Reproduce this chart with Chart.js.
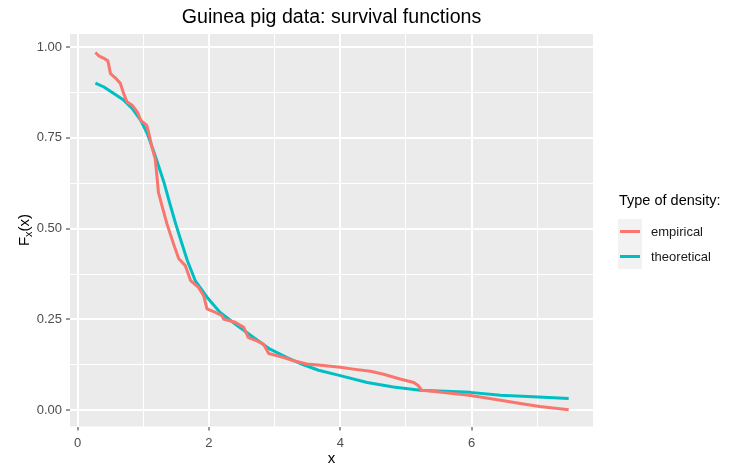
<!DOCTYPE html>
<html>
<head>
<meta charset="utf-8">
<script src="https://cdn.jsdelivr.net/npm/chart.js@4/dist/chart.umd.min.js"></script>
<style>
  html, body { margin: 0; padding: 0; background: #ffffff; }
  #wrap { width: 733px; height: 472px; }
</style>
</head>
<body>
<div id="wrap"><canvas id="c" width="733" height="472"></canvas></div>
<script>
// Empirical survival function (step-like, drawn as a connected line)
const empX = [0.27, 0.32, 0.40, 0.46, 0.50, 0.58, 0.65, 0.70, 0.75, 0.83, 0.91, 0.96, 1.05, 1.08, 1.13, 1.18,
              1.21, 1.23, 1.29, 1.36, 1.46, 1.54, 1.64, 1.72, 1.84, 1.92, 1.97, 2.10, 2.20, 2.22, 2.40, 2.53,
              2.60, 2.73, 2.83, 2.91, 3.04, 3.14, 3.29, 3.49, 3.70, 4.00, 4.20, 4.46, 4.66, 4.91, 5.12, 5.19,
              5.24, 5.47, 5.93, 6.18, 6.49, 6.79, 7.04, 7.48];
const empY = [0.985, 0.976, 0.969, 0.962, 0.927, 0.914, 0.900, 0.872, 0.849, 0.840, 0.821, 0.798, 0.785, 0.766, 0.725, 0.693,
              0.640, 0.600, 0.559, 0.513, 0.458, 0.417, 0.398, 0.357, 0.338, 0.315, 0.279, 0.269, 0.260, 0.251, 0.242, 0.228,
              0.200, 0.191, 0.182, 0.156, 0.150, 0.145, 0.136, 0.127, 0.124, 0.118, 0.113, 0.107, 0.099, 0.086, 0.076, 0.067,
              0.055, 0.051, 0.042, 0.035, 0.026, 0.017, 0.010, 0.001];

// Fitted (theoretical) survival function
const theoX = [0.27, 0.40, 0.55, 0.70, 0.83, 0.96, 1.06, 1.16, 1.21, 1.31, 1.41, 1.49, 1.54, 1.67, 1.79, 1.97,
               2.17, 2.43, 2.68, 2.93, 3.19, 3.44, 3.67, 4.00, 4.41, 4.81, 5.22, 5.98, 6.44, 6.94, 7.48];
const theoY = [0.901, 0.890, 0.872, 0.854, 0.831, 0.798, 0.762, 0.712, 0.685, 0.630, 0.565, 0.515, 0.486, 0.412, 0.357, 0.311,
               0.269, 0.233, 0.200, 0.168, 0.145, 0.125, 0.110, 0.095, 0.076, 0.064, 0.055, 0.049, 0.041, 0.037, 0.032];

const seriesNames = ['empirical', 'theoretical'];
const seriesColors = ['#F8766D', '#00BFC4'];

const xMajorTicks = [0, 2, 4, 6];
const yTickLabels = ['0.00', '0.25', '0.50', '0.75', '1.00'];

const pts = (xs, ys) => xs.map((x, i) => ({ x: x, y: ys[i] }));
const near = (v, step) => Math.abs(v / step - Math.round(v / step)) < 1e-6;

const FONT = '"Liberation Sans", Arial, sans-serif';

const panelBg = {
  id: 'panelBg',
  beforeDraw(chart) {
    const a = chart.chartArea, ctx = chart.ctx;
    ctx.save();
    ctx.fillStyle = '#EBEBEB';
    ctx.fillRect(a.left, a.top, a.right - a.left, a.bottom - a.top);
    ctx.restore();
  }
};

const annotations = {
  id: 'annotations',
  afterDraw(chart) {
    const a = chart.chartArea, ctx = chart.ctx;
    const cx = (a.left + a.right) / 2;
    ctx.save();
    // title
    ctx.fillStyle = '#000000';
    ctx.font = '19.6px ' + FONT;
    ctx.textAlign = 'center';
    ctx.textBaseline = 'alphabetic';
    ctx.fillText('Guinea pig data: survival functions', cx, 23);

    // x axis title
    ctx.font = '15px ' + FONT;
    ctx.textBaseline = 'middle';
    ctx.fillText('x', cx, 459);

    // y axis title: F with subscript x, then (x), rotated
    ctx.translate(24, 230);
    ctx.rotate(-Math.PI / 2);
    ctx.textAlign = 'left';
    ctx.textBaseline = 'alphabetic';
    ctx.font = '15px ' + FONT;
    const wF = ctx.measureText('F').width;
    ctx.font = '11px ' + FONT;
    const wSub = ctx.measureText('x').width;
    ctx.font = '15px ' + FONT;
    const wP = ctx.measureText('(x)').width;
    const total = wF + wSub + wP;
    const x0 = -total / 2;
    const base = 5;
    ctx.fillText('F', x0, base);
    ctx.font = '11px ' + FONT;
    ctx.fillText('x', x0 + wF, base + 3);
    ctx.font = '15px ' + FONT;
    ctx.fillText('(x)', x0 + wF + wSub, base);
    ctx.setTransform(1, 0, 0, 1, 0, 0);

    // legend
    ctx.textAlign = 'left';
    ctx.textBaseline = 'middle';
    ctx.font = '14.5px ' + FONT;
    ctx.fillStyle = '#000000';
    ctx.fillText('Type of density:', 619, 201);
    const keyX = 618, keyW = 24, keyH = 25;
    const keyTops = [219, 244];
    seriesNames.forEach((name, i) => {
      ctx.fillStyle = '#F2F2F2';
      ctx.fillRect(keyX, keyTops[i], keyW, keyH);
      ctx.strokeStyle = seriesColors[i];
      ctx.lineWidth = 3;
      ctx.beginPath();
      ctx.moveTo(keyX + 2, keyTops[i] + keyH / 2);
      ctx.lineTo(keyX + keyW - 2, keyTops[i] + keyH / 2);
      ctx.stroke();
      ctx.fillStyle = '#1A1A1A';
      ctx.font = '13px ' + FONT;
      ctx.fillText(name, 651, keyTops[i] + keyH / 2 + 0.5);
    });
    ctx.restore();
  }
};

new Chart(document.getElementById('c'), {
  type: 'scatter',
  data: {
    datasets: [
      { label: seriesNames[0], data: pts(empX, empY), borderColor: seriesColors[0], backgroundColor: seriesColors[0] },
      { label: seriesNames[1], data: pts(theoX, theoY), borderColor: seriesColors[1], backgroundColor: seriesColors[1] }
    ].map(d => Object.assign(d, {
      showLine: true, pointRadius: 0, pointHoverRadius: 0, borderWidth: 3,
      tension: 0, borderJoinStyle: 'round', borderCapStyle: 'butt'
    }))
  },
  options: {
    responsive: false,
    animation: false,
    devicePixelRatio: 1,
    layout: { padding: { left: 0, right: 140, top: 34, bottom: 0 } },
    plugins: { legend: { display: false }, tooltip: { enabled: false }, title: { display: false } },
    scales: {
      x: {
        type: 'linear',
        min: -0.117, max: 7.85,
        afterFit(s) { s.height = 45.5; },
        border: { display: false },
        grid: {
          color: '#FFFFFF',
          lineWidth: c => near(c.tick.value, 2) ? 2 : 1,
          drawTicks: true,
          tickLength: 4,
          tickWidth: 1,
          tickColor: c => near(c.tick.value, 2) ? '#333333' : 'rgba(0,0,0,0)'
        },
        ticks: {
          stepSize: 1,
          includeBounds: false,
          autoSkip: false,
          maxRotation: 0,
          padding: 5,
          color: '#4D4D4D',
          font: { family: FONT, size: 13 },
          callback: v => xMajorTicks.includes(Math.round(v)) && near(v, 1) ? String(Math.round(v)) : ''
        }
      },
      y: {
        type: 'linear',
        min: -0.045, max: 1.036,
        afterFit(s) { s.width = 70; },
        border: { display: false },
        grid: {
          color: '#FFFFFF',
          lineWidth: c => near(c.tick.value, 0.25) ? 2 : 1,
          drawTicks: true,
          tickLength: 4,
          tickWidth: 1,
          tickColor: c => near(c.tick.value, 0.25) ? '#333333' : 'rgba(0,0,0,0)'
        },
        ticks: {
          stepSize: 0.125,
          includeBounds: false,
          autoSkip: false,
          padding: 4,
          color: '#4D4D4D',
          font: { family: FONT, size: 13 },
          callback: v => near(v, 0.25) ? yTickLabels[Math.round(v / 0.25)] : ''
        }
      }
    }
  },
  plugins: [panelBg, annotations]
});
</script>
</body>
</html>
